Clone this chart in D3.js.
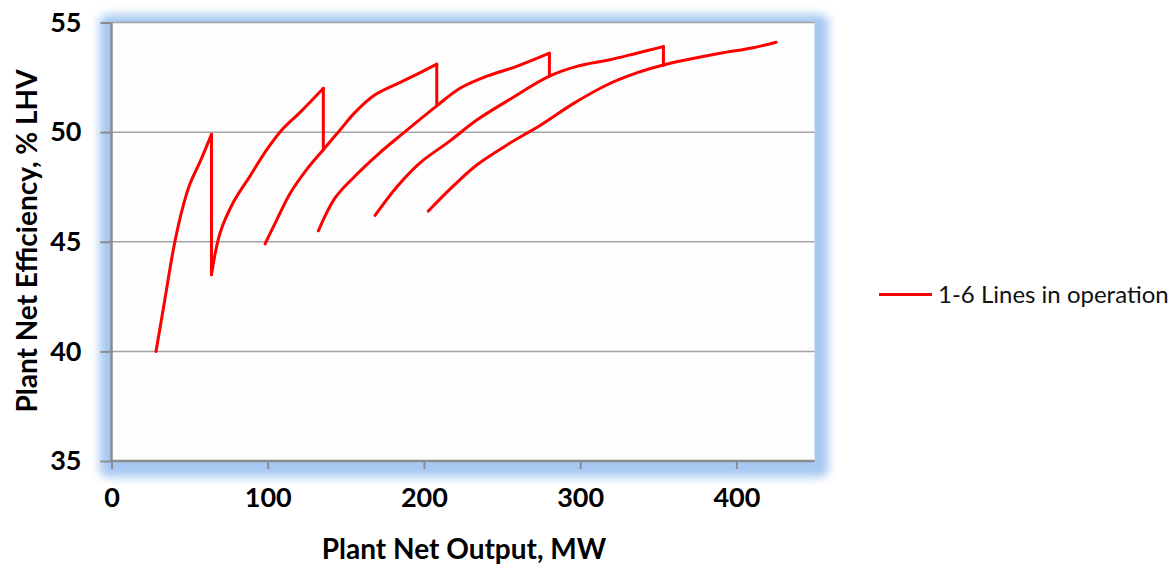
<!DOCTYPE html>
<html>
<head>
<meta charset="utf-8">
<script src="https://cdn.jsdelivr.net/npm/d3@7"></script>
<style>
  body { margin: 0; background: #fff; }
  text { font-family: Lato, "Open Sans", sans-serif; }
</style>
</head>
<body>
<div id="chart"></div>
<script>
const width = 1176;
const height = 565;

// one curve per number of lines in operation, [MW, % LHV]
const oneLine = [[28.5, 40.0], [34, 42.3], [40, 44.8], [45, 46.4], [50, 47.6], [57, 48.7], [64, 49.9]];
const twoLines = [[64, 43.5], [69.5, 45.4], [78, 46.8], [88.7, 48.0], [99.4, 49.2], [109, 50.1], [120.7, 50.9], [135.6, 52.0]];
const threeLines = [[98.3, 44.9], [105.8, 46.0], [114.3, 47.2], [125, 48.3], [135.6, 49.2], [146.3, 50.1], [155.9, 50.9], [168.7, 51.7], [185.8, 52.3], [198.6, 52.75], [208.2, 53.1]];
const fourLines = [[132.4, 45.5], [143.1, 47.0], [155.9, 48.0], [170.8, 49.0], [185.8, 49.9], [208.2, 51.2], [223.1, 52.0], [240.2, 52.55], [259.4, 53.0], [280.3, 53.6]];
const fiveLines = [[168.7, 46.2], [182.6, 47.5], [197.5, 48.6], [216.7, 49.6], [233.8, 50.55], [255.1, 51.5], [280.3, 52.55], [297.8, 53.0], [319.1, 53.3], [336.2, 53.6], [353.3, 53.9]];
const sixLines = [[202.8, 46.4], [216.7, 47.4], [233.8, 48.5], [255.1, 49.5], [274.3, 50.3], [295.6, 51.3], [317, 52.15], [336.2, 52.7], [353.3, 53.06], [368.2, 53.3], [389.6, 53.6], [410.9, 53.85], [425.4, 54.1]];
const curves = [oneLine, twoLines, threeLines, fourLines, fiveLines, sixLines];
// efficiency each curve drops to when the next line is started
const dropTo = [43.5, 49.2, 51.2, 52.55, 53.06];

const xTicks = [0, 100, 200, 300, 400];
const yTicks = [35, 40, 45, 50, 55];
const seriesName = "1-6 Lines in operation";

const margin = { left: 111.5, top: 22.5, right: 814.5, bottom: 461 };

const x = d3.scaleLinear().domain([0, 450]).range([margin.left, margin.right]);
const y = d3.scaleLinear().domain([35, 55]).range([margin.bottom, margin.top]);

const svg = d3
  .select("#chart")
  .append("svg")
  .attr("width", width)
  .attr("height", height);

// soft blue glow behind the plot area
const defs = svg.append("defs");
defs
  .append("filter")
  .attr("id", "glow")
  .attr("x", "-20%")
  .attr("y", "-20%")
  .attr("width", "140%")
  .attr("height", "140%")
  .append("feGaussianBlur")
  .attr("stdDeviation", 5);

svg
  .append("rect")
  .attr("x", margin.left - 12)
  .attr("y", margin.top - 8)
  .attr("width", margin.right - margin.left + 26)
  .attr("height", margin.bottom - margin.top + 24)
  .attr("rx", 8)
  .attr("fill", "#a6c8f2")
  .attr("filter", "url(#glow)");

svg
  .append("rect")
  .attr("x", margin.left)
  .attr("y", margin.top)
  .attr("width", margin.right - margin.left)
  .attr("height", margin.bottom - margin.top)
  .attr("fill", "#fdfdfd");

// horizontal gridlines
svg
  .append("g")
  .selectAll("line")
  .data(yTicks.slice(1))
  .join("line")
  .attr("x1", margin.left)
  .attr("x2", margin.right)
  .attr("y1", (d) => y(d))
  .attr("y2", (d) => y(d))
  .attr("stroke", "#a3a3a3")
  .attr("stroke-width", 1.5);

// axes
const xAxis = svg
  .append("g")
  .attr("transform", `translate(0,${margin.bottom})`)
  .call(d3.axisBottom(x).tickValues(xTicks).tickSize(8).tickPadding(19));

const yAxis = svg
  .append("g")
  .attr("transform", `translate(${margin.left},0)`)
  .call(d3.axisLeft(y).tickValues(yTicks).tickSize(11).tickPadding(19));

[xAxis, yAxis].forEach((g) => {
  g.select(".domain").attr("stroke", "#8c8c8c").attr("stroke-width", 2.5);
  g.selectAll(".tick line").attr("stroke", "#8c8c8c").attr("stroke-width", 2);
  g.selectAll(".tick text")
    .attr("fill", "#000")
    .style("font-family", "Lato, 'Open Sans', sans-serif")
    .style("font-size", "27px")
    .style("font-weight", "bold");
});
xAxis.select(".domain").attr("d", `M${margin.left},0H${margin.right}`);
yAxis.select(".domain").attr("d", `M0,${margin.bottom}V${margin.top}`);

// curves, smoothed, plus the vertical drops between them
const line = d3
  .line()
  .curve(d3.curveCatmullRom.alpha(0.5))
  .x((d) => x(d[0]))
  .y((d) => y(d[1]));

const marks = svg.append("g")
  .attr("fill", "none")
  .attr("stroke", "#ff0000")
  .attr("stroke-width", 3)
  .attr("stroke-linejoin", "round")
  .attr("stroke-linecap", "round");

marks
  .selectAll("path.curve")
  .data(curves)
  .join("path")
  .attr("class", "curve")
  .attr("d", line);

marks
  .selectAll("line.drop")
  .data(dropTo)
  .join("line")
  .attr("class", "drop")
  .attr("x1", (d, i) => x(curves[i][curves[i].length - 1][0]))
  .attr("x2", (d, i) => x(curves[i][curves[i].length - 1][0]))
  .attr("y1", (d, i) => y(curves[i][curves[i].length - 1][1]))
  .attr("y2", (d) => y(d));

// axis titles
svg
  .append("text")
  .attr("x", 464)
  .attr("y", 559)
  .attr("text-anchor", "middle")
  .style("font-size", "28px")
  .style("font-weight", "bold")
  .text("Plant Net Output, MW");

svg
  .append("text")
  .attr("transform", "translate(37,241) rotate(-90)")
  .attr("text-anchor", "middle")
  .style("font-size", "28px")
  .style("font-weight", "bold")
  .text("Plant Net Efficiency, % LHV");

// legend
const legend = svg.append("g").attr("transform", "translate(879,294.5)");
legend
  .append("line")
  .attr("x1", 0)
  .attr("x2", 53)
  .attr("stroke", "#ff0000")
  .attr("stroke-width", 3);
legend
  .append("text")
  .attr("x", 59)
  .attr("dy", "0.35em")
  .style("font-size", "24px")
  .attr("fill", "#111")
  .text(seriesName);
</script>
</body>
</html>
